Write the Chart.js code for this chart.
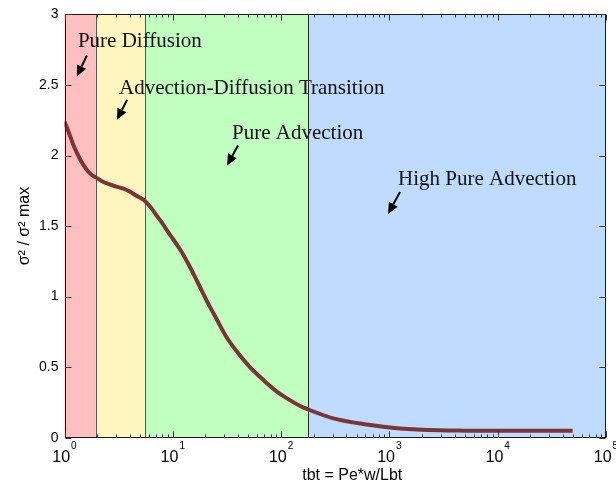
<!DOCTYPE html>
<html>
<head>
<meta charset="utf-8">
<script src="https://cdn.jsdelivr.net/npm/chart.js@4/dist/chart.umd.min.js"></script>
<style>
  html, body { margin: 0; padding: 0; background: #ffffff; }
  #wrap { width: 616px; height: 489px; }
</style>
</head>
<body>
<div id="wrap"><canvas id="c" width="616" height="489"></canvas></div>
<script>
// Dimensionless time tbt = Pe*w/Lbt and the normalised variance sigma^2 / sigma^2_max
const tbt = [1, 1.1, 1.2, 1.3, 1.4, 1.6, 1.8, 1.95, 2.2, 2.5, 3, 3.5, 4, 4.5, 5, 5.5,
             6.3, 7, 8, 9, 10, 12, 14.4, 17, 20.6, 25, 31.5, 40, 51.5, 63, 73, 90, 105, 150, 178,
             303, 616, 1250, 2930, 5000, 10000, 20000, 49200];
const varianceRatio = [2.24, 2.16, 2.08, 2.02, 1.97, 1.90, 1.86, 1.845, 1.82, 1.80, 1.78, 1.765,
                       1.745, 1.72, 1.70, 1.68, 1.63, 1.58, 1.52, 1.46, 1.41, 1.32, 1.21, 1.10,
                       0.97, 0.85, 0.71, 0.60, 0.50, 0.435, 0.39, 0.33, 0.295, 0.225, 0.20,
                       0.137, 0.094, 0.066, 0.052, 0.050, 0.049, 0.049, 0.049];

// Transport regimes along the tbt axis
const regimeEdges = [1, 1.95, 5.5, 178, 100000];
const regimeColors = ['#ffbfbf', '#fff5bf', '#c1ffc1', '#bfdbff'];
const regimeEdgeColors = ['#555555', '#555555', '#222222'];
const regimeNames = ['Pure Diffusion', 'Advection-Diffusion Transition', 'Pure Advection', 'High Pure Advection'];
const labelAnchors = [[1.33, 2.767], [3.19, 2.436], [35.2, 2.114], [1200, 1.79]];
const arrowTails = [[1.61, 2.71], [3.78, 2.394], [40, 2.071], [1253, 1.741]];
const arrowTips = [[1.30, 2.56], [3.05, 2.253], [31.7, 1.93], [971, 1.586]];

// Axis ticks and titles
const xDecades = [0, 1, 2, 3, 4, 5];
const xMinorMultipliers = [2, 3, 4, 5, 6, 7, 8, 9];
const yTicks = [0, 0.5, 1, 1.5, 2, 2.5, 3];
const xTitle = 'tbt = Pe*w/Lbt';
const yTitle = 'σ² / σ² max';

const AREA = { left: 64.5, top: 10.7, right: 606, bottom: 437.7 };
const SANS = '"Liberation Sans", Arial, sans-serif';

const regimeBands = {
  id: 'regimeBands',
  beforeDatasetsDraw(chart) {
    const { ctx, chartArea: a, scales: { x } } = chart;
    ctx.save();
    for (let i = 0; i < regimeColors.length; i++) {
      const x0 = x.getPixelForValue(regimeEdges[i]);
      const x1 = x.getPixelForValue(regimeEdges[i + 1]);
      ctx.fillStyle = regimeColors[i];
      ctx.fillRect(x0, a.top, x1 - x0, a.bottom - a.top);
    }
    ctx.lineWidth = 1;
    for (let i = 1; i < regimeEdges.length - 1; i++) {
      const px = Math.round(x.getPixelForValue(regimeEdges[i])) + 0.5;
      ctx.strokeStyle = regimeEdgeColors[i - 1];
      ctx.beginPath();
      ctx.moveTo(px, a.top);
      ctx.lineTo(px, a.bottom);
      ctx.stroke();
    }
    ctx.restore();
  }
};

const axesFrame = {
  id: 'axesFrame',
  afterDatasetsDraw(chart) {
    const { ctx, chartArea: a, scales: { x, y } } = chart;
    ctx.save();
    ctx.strokeStyle = '#1a1a1a';
    ctx.lineWidth = 1;
    const L = Math.round(a.left) + 0.5, R = Math.round(a.right) - 0.5;
    const T = Math.round(a.top) + 0.5, B = Math.round(a.bottom) - 0.5;
    ctx.strokeRect(L, T, R - L, B - T);

    ctx.strokeStyle = '#333333';
    ctx.beginPath();
    // x ticks, pointing inward at bottom and top
    xDecades.forEach((d) => {
      const px = Math.round(x.getPixelForValue(Math.pow(10, d))) + 0.5;
      ctx.moveTo(px, B); ctx.lineTo(px, B - 6);
      ctx.moveTo(px, T); ctx.lineTo(px, T + 6);
      if (d < xDecades[xDecades.length - 1]) {
        xMinorMultipliers.forEach((m) => {
          const qx = Math.round(x.getPixelForValue(m * Math.pow(10, d))) + 0.5;
          ctx.moveTo(qx, B); ctx.lineTo(qx, B - 3);
          ctx.moveTo(qx, T); ctx.lineTo(qx, T + 3);
        });
      }
    });
    // y ticks on both sides
    yTicks.forEach((v) => {
      const py = Math.round(y.getPixelForValue(v)) + 0.5;
      ctx.moveTo(L, py); ctx.lineTo(L + 6, py);
      ctx.moveTo(R, py); ctx.lineTo(R - 6, py);
    });
    ctx.stroke();

    // decade labels 10^n
    ctx.fillStyle = '#000000';
    ctx.textBaseline = 'alphabetic';
    ctx.textAlign = 'left';
    xDecades.forEach((d) => {
      const px = x.getPixelForValue(Math.pow(10, d));
      ctx.font = '16px ' + SANS;
      const base = '10';
      const wb = ctx.measureText(base).width;
      ctx.font = '10px ' + SANS;
      const sup = String(d);
      const ws = ctx.measureText(sup).width;
      const x0 = px - (wb + ws + 1) / 2;
      ctx.font = '16px ' + SANS;
      ctx.fillText(base, x0, a.bottom + 24.5);
      ctx.font = '10px ' + SANS;
      ctx.fillText(sup, x0 + wb + 1, a.bottom + 11.5);
    });

    // x axis title
    ctx.font = '16px ' + SANS;
    ctx.textAlign = 'center';
    ctx.fillText(xTitle, (a.left + a.right) / 2 + 17, a.bottom + 42);

    // y axis title, rotated
    ctx.save();
    ctx.translate(25, (a.top + a.bottom) / 2);
    ctx.rotate(-Math.PI / 2);
    ctx.textBaseline = 'middle';
    ctx.font = '16px ' + SANS;
    ctx.fillText(yTitle, 0, 0);
    ctx.restore();

    // regime annotations with arrows
    ctx.textAlign = 'left';
    ctx.font = '21px "Liberation Serif", "Times New Roman", serif';
    ctx.fillStyle = '#111111';
    regimeNames.forEach((name, i) => {
      const tx = x.getPixelForValue(labelAnchors[i][0]);
      const ty = y.getPixelForValue(labelAnchors[i][1]);
      ctx.fillText(name, tx, ty);

      const x0 = x.getPixelForValue(arrowTails[i][0]);
      const y0 = y.getPixelForValue(arrowTails[i][1]);
      const x1 = x.getPixelForValue(arrowTips[i][0]);
      const y1 = y.getPixelForValue(arrowTips[i][1]);
      const ang = Math.atan2(y1 - y0, x1 - x0);
      const head = 11, half = 5;
      const bx = x1 - head * Math.cos(ang), by = y1 - head * Math.sin(ang);
      ctx.strokeStyle = '#000000';
      ctx.lineWidth = 2;
      ctx.beginPath();
      ctx.moveTo(x0, y0);
      ctx.lineTo(bx, by);
      ctx.stroke();
      ctx.fillStyle = '#000000';
      ctx.beginPath();
      ctx.moveTo(x1, y1);
      ctx.lineTo(bx + half * Math.sin(ang), by - half * Math.cos(ang));
      ctx.lineTo(bx - half * Math.sin(ang), by + half * Math.cos(ang));
      ctx.closePath();
      ctx.fill();
      ctx.fillStyle = '#111111';
    });
    ctx.restore();
  }
};

new Chart(document.getElementById('c'), {
  type: 'line',
  data: {
    datasets: [{
      data: tbt.map((t, i) => ({ x: t, y: varianceRatio[i] })),
      borderColor: '#7a3636',
      borderWidth: 4,
      pointRadius: 0,
      cubicInterpolationMode: 'monotone',
      fill: false
    }]
  },
  options: {
    responsive: false,
    animation: false,
    devicePixelRatio: 1,
    layout: { padding: { top: AREA.top, right: 616 - AREA.right, left: 0, bottom: 0 } },
    plugins: { legend: { display: false }, tooltip: { enabled: false } },
    scales: {
      x: {
        type: 'logarithmic',
        min: 1,
        max: 100000,
        grid: { display: false, drawTicks: false },
        border: { display: false },
        ticks: { display: false },
        afterBuildTicks: (s) => { s.ticks = xDecades.map((d) => ({ value: Math.pow(10, d) })); },
        afterFit: (s) => { s.height = 489 - AREA.bottom; }
      },
      y: {
        min: 0,
        max: 3,
        grid: { display: false, drawTicks: false },
        border: { display: false },
        afterBuildTicks: (s) => { s.ticks = yTicks.map((v) => ({ value: v })); },
        afterFit: (s) => { s.width = AREA.left; },
        ticks: {
          color: '#000000',
          padding: 6,
          font: { family: SANS, size: 14 },
          callback: (v) => String(v)
        }
      }
    }
  },
  plugins: [regimeBands, axesFrame]
});
</script>
</body>
</html>
